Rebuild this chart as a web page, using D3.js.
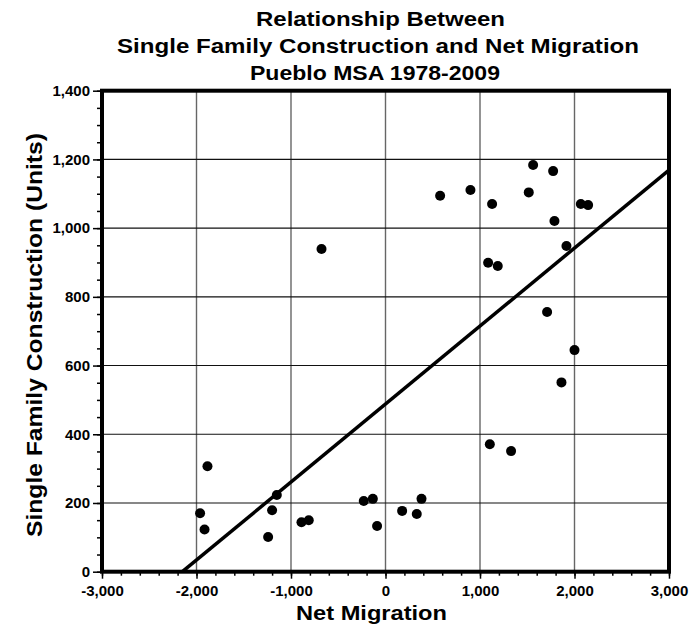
<!DOCTYPE html>
<html>
<head>
<meta charset="utf-8">
<script src="https://cdn.jsdelivr.net/npm/d3@7.9.0/dist/d3.min.js"></script>
<style>
    body { margin: 0; background: #fff; }
    svg { display: block; font-family: "Liberation Sans", Arial, sans-serif; }
</style>
</head>
<body>
<svg id="chart"></svg>
<script>
// Net migration vs single family units, one point per year (1978-2009)
const migration = [-1884, -1962, -1915, -1150, -1200, -1242, -889, -812, -230, -134,
    -89, 176, 331, 381, 1104, 1329, 578, 899, 1128, 1562,
    1774, 1516, 2067, 2144, 1788, 1915, 1086, 1188, 1710, 2000,
    1862, -677];
const construction = [307, 170, 123, 223, 179, 101, 144, 150, 206, 212,
    133, 177, 168, 212, 371, 351, 1094, 1111, 1070, 1184,
    1166, 1104, 1070, 1067, 1021, 948, 899, 890, 756, 645,
    551, 939];

// trend line
const trendIntercept = 488;
const trendSlope = 0.227;

const xTicks = [-3000, -2000, -1000, 0, 1000, 2000, 3000];
const xTickLabels = ["-3,000", "-2,000", "-1,000", "0", "1,000", "2,000", "3,000"];
const yTicks = [0, 200, 400, 600, 800, 1000, 1200, 1400];
const yTickLabels = ["0", "200", "400", "600", "800", "1,000", "1,200", "1,400"];

const titleLines = ["Relationship Between", "Single Family Construction and Net Migration", "Pueblo MSA 1978-2009"];

const width = 696, height = 629;
const plot = { left: 102, right: 669, top: 90.7, bottom: 571.7 };

const svg = d3.select("#chart")
    .attr("width", width)
    .attr("height", height);

const x = d3.scaleLinear().domain([-3000, 3000]).range([plot.left, plot.right]);
const y = d3.scaleLinear().domain([0, 1400]).range([plot.bottom, plot.top]);

// Gridlines
svg.append("g")
    .selectAll("line")
    .data(xTicks.slice(1, -1))
    .join("line")
    .attr("x1", d => x(d)).attr("x2", d => x(d))
    .attr("y1", plot.top).attr("y2", plot.bottom)
    .attr("stroke", "#666")
    .attr("stroke-width", 1.4);

svg.append("g")
    .selectAll("line")
    .data(yTicks.slice(1, -1))
    .join("line")
    .attr("x1", plot.left).attr("x2", plot.right)
    .attr("y1", d => y(d)).attr("y2", d => y(d))
    .attr("stroke", "#111")
    .attr("stroke-width", 1.1);

// Minor ticks
svg.append("g")
    .attr("transform", `translate(0,${plot.bottom})`)
    .call(d3.axisBottom(x).tickValues(d3.range(-3000, 3001, 200)).tickSize(4).tickFormat(""))
    .call(g => g.select(".domain").remove())
    .call(g => g.selectAll("line").attr("stroke-width", 1.5));

svg.append("g")
    .attr("transform", `translate(${plot.left},0)`)
    .call(d3.axisLeft(y).tickValues(d3.range(0, 1401, 50)).tickSize(5).tickFormat(""))
    .call(g => g.select(".domain").remove())
    .call(g => g.selectAll("line").attr("stroke-width", 1.5));

// Major ticks + labels
svg.append("g")
    .attr("transform", `translate(0,${plot.bottom})`)
    .call(d3.axisBottom(x).tickValues(xTicks).tickSize(7).tickPadding(7)
        .tickFormat((d, i) => xTickLabels[i]))
    .call(g => g.select(".domain").remove())
    .call(g => g.selectAll("line").attr("stroke-width", 1.5))
    .call(g => g.selectAll("text")
        .attr("fill", "#000")
        .style("font-size", "15px")
        .style("font-weight", "bold")
        .style("font-family", "'Liberation Sans', Arial, sans-serif"));

svg.append("g")
    .attr("transform", `translate(${plot.left},0)`)
    .call(d3.axisLeft(y).tickValues(yTicks).tickSize(9).tickPadding(3)
        .tickFormat((d, i) => yTickLabels[i]))
    .call(g => g.select(".domain").remove())
    .call(g => g.selectAll("line").attr("stroke-width", 1.5))
    .call(g => g.selectAll("text")
        .attr("fill", "#000")
        .style("font-size", "15px")
        .style("font-weight", "bold")
        .style("font-family", "'Liberation Sans', Arial, sans-serif"));

// Trend line, starts where it crosses zero
const trendStart = -trendIntercept / trendSlope;
svg.append("line")
    .attr("x1", x(trendStart))
    .attr("y1", y(trendIntercept + trendSlope * trendStart))
    .attr("x2", x(3000))
    .attr("y2", y(trendIntercept + trendSlope * 3000))
    .attr("stroke", "#000")
    .attr("stroke-width", 3.5);

// Points
svg.append("g")
    .selectAll("circle")
    .data(migration)
    .join("circle")
    .attr("cx", d => x(d))
    .attr("cy", (d, i) => y(construction[i]))
    .attr("r", 5)
    .attr("fill", "#000");

// Thick frame
svg.append("rect")
    .attr("x", plot.left)
    .attr("y", plot.top)
    .attr("width", plot.right - plot.left)
    .attr("height", plot.bottom - plot.top)
    .attr("fill", "none")
    .attr("stroke", "#000")
    .attr("stroke-width", 4);

// Title
const titleStarts = [256, 117, 250];
const titleWidths = [249, 522, 250];
svg.append("g")
    .selectAll("text")
    .data(titleLines)
    .join("text")
    .attr("x", (d, i) => titleStarts[i])
    .attr("y", (d, i) => 26 + i * 27)
    .attr("textLength", (d, i) => titleWidths[i])
    .attr("lengthAdjust", "spacingAndGlyphs")
    .style("font-size", "20px")
    .style("font-weight", "bold")
    .text(d => d);

// X-axis label
svg.append("text")
    .attr("x", 296)
    .attr("y", 620)
    .attr("textLength", 151)
    .attr("lengthAdjust", "spacingAndGlyphs")
    .style("font-size", "21px")
    .style("font-weight", "bold")
    .text("Net Migration");

// Y-axis label
svg.append("text")
    .attr("transform", "translate(42,335) rotate(-90)")
    .attr("text-anchor", "middle")
    .attr("textLength", 404)
    .attr("lengthAdjust", "spacingAndGlyphs")
    .style("font-size", "22px")
    .style("font-weight", "bold")
    .text("Single Family Construction (Units)");
</script>
</body>
</html>
